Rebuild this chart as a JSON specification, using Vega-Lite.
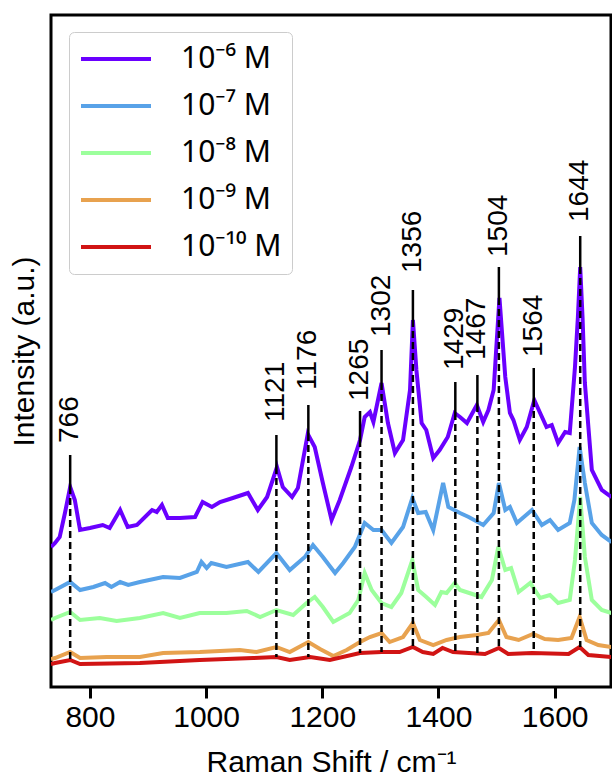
{
  "$schema": "https://vega.github.io/schema/vega-lite/v6.json",
  "width": 560,
  "height": 672,
  "autosize": {"type": "none"},
  "padding": {"left": 51, "top": 15, "right": 1, "bottom": 91},
  "background": "white",
  "config": {
    "view": {"stroke": "black", "strokeWidth": 3},
    "font": "Liberation Sans"
  },
  "datasets": {
    "spectra": [
      {"s":"10⁻⁶ M","x":733,"y":140},{"s":"10⁻⁶ M","x":740,"y":144},{"s":"10⁻⁶ M","x":748,"y":150},{"s":"10⁻⁶ M","x":757,"y":174},{"s":"10⁻⁶ M","x":766,"y":200},{"s":"10⁻⁶ M","x":774,"y":187},{"s":"10⁻⁶ M","x":783,"y":157},{"s":"10⁻⁶ M","x":800,"y":159},{"s":"10⁻⁶ M","x":822,"y":162},{"s":"10⁻⁶ M","x":834,"y":159},{"s":"10⁻⁶ M","x":852,"y":177},{"s":"10⁻⁶ M","x":865,"y":160},{"s":"10⁻⁶ M","x":881,"y":162},{"s":"10⁻⁶ M","x":907,"y":177},{"s":"10⁻⁶ M","x":915,"y":175},{"s":"10⁻⁶ M","x":924,"y":182},{"s":"10⁻⁶ M","x":934,"y":169},{"s":"10⁻⁶ M","x":955,"y":169},{"s":"10⁻⁶ M","x":981,"y":170},{"s":"10⁻⁶ M","x":994,"y":185},{"s":"10⁻⁶ M","x":1010,"y":180},{"s":"10⁻⁶ M","x":1024,"y":185},{"s":"10⁻⁶ M","x":1046,"y":189},{"s":"10⁻⁶ M","x":1072,"y":194},{"s":"10⁻⁶ M","x":1089,"y":177},{"s":"10⁻⁶ M","x":1105,"y":190},{"s":"10⁻⁶ M","x":1122,"y":220},{"s":"10⁻⁶ M","x":1132,"y":200},{"s":"10⁻⁶ M","x":1148,"y":190},{"s":"10⁻⁶ M","x":1158,"y":199},{"s":"10⁻⁶ M","x":1175,"y":253},{"s":"10⁻⁶ M","x":1187,"y":240},{"s":"10⁻⁶ M","x":1201,"y":204},{"s":"10⁻⁶ M","x":1216,"y":167},{"s":"10⁻⁶ M","x":1230,"y":187},{"s":"10⁻⁶ M","x":1250,"y":220},{"s":"10⁻⁶ M","x":1265,"y":247},{"s":"10⁻⁶ M","x":1273,"y":270},{"s":"10⁻⁶ M","x":1282,"y":275},{"s":"10⁻⁶ M","x":1288,"y":265},{"s":"10⁻⁶ M","x":1302,"y":304},{"s":"10⁻⁶ M","x":1313,"y":264},{"s":"10⁻⁶ M","x":1325,"y":234},{"s":"10⁻⁶ M","x":1339,"y":247},{"s":"10⁻⁶ M","x":1351,"y":297},{"s":"10⁻⁶ M","x":1356,"y":367},{"s":"10⁻⁶ M","x":1362,"y":317},{"s":"10⁻⁶ M","x":1371,"y":264},{"s":"10⁻⁶ M","x":1379,"y":257},{"s":"10⁻⁶ M","x":1391,"y":229},{"s":"10⁻⁶ M","x":1402,"y":237},{"s":"10⁻⁶ M","x":1416,"y":250},{"s":"10⁻⁶ M","x":1428,"y":274},{"s":"10⁻⁶ M","x":1437,"y":270},{"s":"10⁻⁶ M","x":1449,"y":264},{"s":"10⁻⁶ M","x":1466,"y":282},{"s":"10⁻⁶ M","x":1477,"y":265},{"s":"10⁻⁶ M","x":1486,"y":277},{"s":"10⁻⁶ M","x":1495,"y":297},{"s":"10⁻⁶ M","x":1505,"y":389},{"s":"10⁻⁶ M","x":1515,"y":310},{"s":"10⁻⁶ M","x":1523,"y":274},{"s":"10⁻⁶ M","x":1529,"y":267},{"s":"10⁻⁶ M","x":1540,"y":247},{"s":"10⁻⁶ M","x":1552,"y":260},{"s":"10⁻⁶ M","x":1565,"y":287},{"s":"10⁻⁶ M","x":1575,"y":274},{"s":"10⁻⁶ M","x":1586,"y":260},{"s":"10⁻⁶ M","x":1595,"y":262},{"s":"10⁻⁶ M","x":1606,"y":244},{"s":"10⁻⁶ M","x":1618,"y":255},{"s":"10⁻⁶ M","x":1626,"y":254},{"s":"10⁻⁶ M","x":1635,"y":320},{"s":"10⁻⁶ M","x":1640,"y":370},{"s":"10⁻⁶ M","x":1644,"y":420},{"s":"10⁻⁶ M","x":1648,"y":370},{"s":"10⁻⁶ M","x":1652,"y":304},{"s":"10⁻⁶ M","x":1664,"y":217},{"s":"10⁻⁶ M","x":1681,"y":197},{"s":"10⁻⁶ M","x":1698,"y":190},
      {"s":"10⁻⁷ M","x":733,"y":95},{"s":"10⁻⁷ M","x":740,"y":97},{"s":"10⁻⁷ M","x":766,"y":105},{"s":"10⁻⁷ M","x":783,"y":97},{"s":"10⁻⁷ M","x":806,"y":100},{"s":"10⁻⁷ M","x":826,"y":104},{"s":"10⁻⁷ M","x":837,"y":100},{"s":"10⁻⁷ M","x":852,"y":105},{"s":"10⁻⁷ M","x":866,"y":102},{"s":"10⁻⁷ M","x":886,"y":105},{"s":"10⁻⁷ M","x":926,"y":110},{"s":"10⁻⁷ M","x":955,"y":109},{"s":"10⁻⁷ M","x":984,"y":115},{"s":"10⁻⁷ M","x":992,"y":125},{"s":"10⁻⁷ M","x":1001,"y":119},{"s":"10⁻⁷ M","x":1009,"y":124},{"s":"10⁻⁷ M","x":1035,"y":120},{"s":"10⁻⁷ M","x":1072,"y":125},{"s":"10⁻⁷ M","x":1090,"y":115},{"s":"10⁻⁷ M","x":1121,"y":134},{"s":"10⁻⁷ M","x":1144,"y":117},{"s":"10⁻⁷ M","x":1170,"y":130},{"s":"10⁻⁷ M","x":1184,"y":142},{"s":"10⁻⁷ M","x":1201,"y":130},{"s":"10⁻⁷ M","x":1222,"y":114},{"s":"10⁻⁷ M","x":1236,"y":124},{"s":"10⁻⁷ M","x":1256,"y":140},{"s":"10⁻⁷ M","x":1273,"y":164},{"s":"10⁻⁷ M","x":1288,"y":157},{"s":"10⁻⁷ M","x":1302,"y":157},{"s":"10⁻⁷ M","x":1319,"y":144},{"s":"10⁻⁷ M","x":1339,"y":160},{"s":"10⁻⁷ M","x":1355,"y":189},{"s":"10⁻⁷ M","x":1365,"y":174},{"s":"10⁻⁷ M","x":1378,"y":175},{"s":"10⁻⁷ M","x":1391,"y":157},{"s":"10⁻⁷ M","x":1408,"y":204},{"s":"10⁻⁷ M","x":1417,"y":180},{"s":"10⁻⁷ M","x":1437,"y":174},{"s":"10⁻⁷ M","x":1452,"y":170},{"s":"10⁻⁷ M","x":1477,"y":162},{"s":"10⁻⁷ M","x":1495,"y":174},{"s":"10⁻⁷ M","x":1504,"y":204},{"s":"10⁻⁷ M","x":1515,"y":177},{"s":"10⁻⁷ M","x":1523,"y":180},{"s":"10⁻⁷ M","x":1535,"y":164},{"s":"10⁻⁷ M","x":1561,"y":177},{"s":"10⁻⁷ M","x":1578,"y":162},{"s":"10⁻⁷ M","x":1592,"y":167},{"s":"10⁻⁷ M","x":1606,"y":157},{"s":"10⁻⁷ M","x":1626,"y":164},{"s":"10⁻⁷ M","x":1634,"y":187},{"s":"10⁻⁷ M","x":1643,"y":240},{"s":"10⁻⁷ M","x":1652,"y":204},{"s":"10⁻⁷ M","x":1664,"y":164},{"s":"10⁻⁷ M","x":1681,"y":152},{"s":"10⁻⁷ M","x":1698,"y":145},
      {"s":"10⁻⁸ M","x":733,"y":67},{"s":"10⁻⁸ M","x":740,"y":69},{"s":"10⁻⁸ M","x":766,"y":75},{"s":"10⁻⁸ M","x":783,"y":67},{"s":"10⁻⁸ M","x":817,"y":69},{"s":"10⁻⁸ M","x":846,"y":66},{"s":"10⁻⁸ M","x":886,"y":69},{"s":"10⁻⁸ M","x":926,"y":74},{"s":"10⁻⁸ M","x":955,"y":69},{"s":"10⁻⁸ M","x":989,"y":74},{"s":"10⁻⁸ M","x":1035,"y":74},{"s":"10⁻⁸ M","x":1070,"y":76},{"s":"10⁻⁸ M","x":1093,"y":70},{"s":"10⁻⁸ M","x":1121,"y":77},{"s":"10⁻⁸ M","x":1150,"y":72},{"s":"10⁻⁸ M","x":1173,"y":84},{"s":"10⁻⁸ M","x":1187,"y":90},{"s":"10⁻⁸ M","x":1201,"y":80},{"s":"10⁻⁸ M","x":1219,"y":65},{"s":"10⁻⁸ M","x":1247,"y":74},{"s":"10⁻⁸ M","x":1262,"y":87},{"s":"10⁻⁸ M","x":1273,"y":114},{"s":"10⁻⁸ M","x":1285,"y":97},{"s":"10⁻⁸ M","x":1302,"y":84},{"s":"10⁻⁸ M","x":1319,"y":80},{"s":"10⁻⁸ M","x":1336,"y":94},{"s":"10⁻⁸ M","x":1355,"y":127},{"s":"10⁻⁸ M","x":1365,"y":97},{"s":"10⁻⁸ M","x":1379,"y":90},{"s":"10⁻⁸ M","x":1394,"y":82},{"s":"10⁻⁸ M","x":1405,"y":95},{"s":"10⁻⁸ M","x":1414,"y":94},{"s":"10⁻⁸ M","x":1428,"y":104},{"s":"10⁻⁸ M","x":1437,"y":97},{"s":"10⁻⁸ M","x":1474,"y":90},{"s":"10⁻⁸ M","x":1492,"y":107},{"s":"10⁻⁸ M","x":1503,"y":140},{"s":"10⁻⁸ M","x":1515,"y":117},{"s":"10⁻⁸ M","x":1525,"y":119},{"s":"10⁻⁸ M","x":1538,"y":95},{"s":"10⁻⁸ M","x":1558,"y":104},{"s":"10⁻⁸ M","x":1575,"y":89},{"s":"10⁻⁸ M","x":1592,"y":92},{"s":"10⁻⁸ M","x":1606,"y":84},{"s":"10⁻⁸ M","x":1626,"y":87},{"s":"10⁻⁸ M","x":1635,"y":127},{"s":"10⁻⁸ M","x":1644,"y":190},{"s":"10⁻⁸ M","x":1652,"y":130},{"s":"10⁻⁸ M","x":1664,"y":87},{"s":"10⁻⁸ M","x":1681,"y":77},{"s":"10⁻⁸ M","x":1698,"y":74},
      {"s":"10⁻⁹ M","x":733,"y":28},{"s":"10⁻⁹ M","x":740,"y":29},{"s":"10⁻⁹ M","x":766,"y":35},{"s":"10⁻⁹ M","x":783,"y":29},{"s":"10⁻⁹ M","x":829,"y":30},{"s":"10⁻⁹ M","x":886,"y":30},{"s":"10⁻⁹ M","x":926,"y":34},{"s":"10⁻⁹ M","x":989,"y":35},{"s":"10⁻⁹ M","x":1058,"y":37},{"s":"10⁻⁹ M","x":1087,"y":35},{"s":"10⁻⁹ M","x":1121,"y":40},{"s":"10⁻⁹ M","x":1144,"y":35},{"s":"10⁻⁹ M","x":1176,"y":45},{"s":"10⁻⁹ M","x":1196,"y":38},{"s":"10⁻⁹ M","x":1219,"y":31},{"s":"10⁻⁹ M","x":1242,"y":37},{"s":"10⁻⁹ M","x":1265,"y":45},{"s":"10⁻⁹ M","x":1282,"y":50},{"s":"10⁻⁹ M","x":1302,"y":54},{"s":"10⁻⁹ M","x":1316,"y":45},{"s":"10⁻⁹ M","x":1339,"y":50},{"s":"10⁻⁹ M","x":1356,"y":64},{"s":"10⁻⁹ M","x":1368,"y":47},{"s":"10⁻⁹ M","x":1391,"y":42},{"s":"10⁻⁹ M","x":1414,"y":47},{"s":"10⁻⁹ M","x":1437,"y":50},{"s":"10⁻⁹ M","x":1466,"y":52},{"s":"10⁻⁹ M","x":1486,"y":54},{"s":"10⁻⁹ M","x":1504,"y":67},{"s":"10⁻⁹ M","x":1517,"y":50},{"s":"10⁻⁹ M","x":1538,"y":47},{"s":"10⁻⁹ M","x":1563,"y":53},{"s":"10⁻⁹ M","x":1583,"y":48},{"s":"10⁻⁹ M","x":1606,"y":47},{"s":"10⁻⁹ M","x":1629,"y":49},{"s":"10⁻⁹ M","x":1643,"y":70},{"s":"10⁻⁹ M","x":1655,"y":47},{"s":"10⁻⁹ M","x":1675,"y":42},{"s":"10⁻⁹ M","x":1698,"y":40},
      {"s":"10⁻¹⁰ M","x":733,"y":23},{"s":"10⁻¹⁰ M","x":740,"y":24},{"s":"10⁻¹⁰ M","x":766,"y":27},{"s":"10⁻¹⁰ M","x":783,"y":23},{"s":"10⁻¹⁰ M","x":886,"y":24},{"s":"10⁻¹⁰ M","x":989,"y":27},{"s":"10⁻¹⁰ M","x":1081,"y":29},{"s":"10⁻¹⁰ M","x":1121,"y":30},{"s":"10⁻¹⁰ M","x":1144,"y":27},{"s":"10⁻¹⁰ M","x":1179,"y":30},{"s":"10⁻¹⁰ M","x":1213,"y":27},{"s":"10⁻¹⁰ M","x":1265,"y":34},{"s":"10⁻¹⁰ M","x":1302,"y":35},{"s":"10⁻¹⁰ M","x":1333,"y":35},{"s":"10⁻¹⁰ M","x":1356,"y":40},{"s":"10⁻¹⁰ M","x":1373,"y":35},{"s":"10⁻¹⁰ M","x":1391,"y":33},{"s":"10⁻¹⁰ M","x":1407,"y":39},{"s":"10⁻¹⁰ M","x":1425,"y":35},{"s":"10⁻¹⁰ M","x":1480,"y":33},{"s":"10⁻¹⁰ M","x":1504,"y":39},{"s":"10⁻¹⁰ M","x":1520,"y":33},{"s":"10⁻¹⁰ M","x":1561,"y":34},{"s":"10⁻¹⁰ M","x":1624,"y":33},{"s":"10⁻¹⁰ M","x":1643,"y":40},{"s":"10⁻¹⁰ M","x":1658,"y":32},{"s":"10⁻¹⁰ M","x":1698,"y":30}
    ],
    "peaks": [
      {"p":766,"lbl":"766","ty":244,"lt":232,"pk":200,"rb":27},
      {"p":1121,"lbl":"1121","ty":265,"lt":252,"pk":220,"rb":30},
      {"p":1176,"lbl":"1176","ty":297,"lt":282,"pk":253,"rb":30},
      {"p":1265,"lbl":"1265","ty":286,"lt":276,"pk":247,"rb":34},
      {"p":1302,"lbl":"1302","ty":350,"lt":337,"pk":304,"rb":35},
      {"p":1356,"lbl":"1356","ty":414,"lt":397,"pk":367,"rb":40},
      {"p":1429,"lbl":"1429","ty":317,"lt":305,"pk":274,"rb":35},
      {"p":1467,"lbl":"1467","ty":327,"lt":312,"pk":282,"rb":34},
      {"p":1504,"lbl":"1504","ty":430,"lt":420,"pk":389,"rb":39},
      {"p":1564,"lbl":"1564","ty":330,"lt":319,"pk":287,"rb":34},
      {"p":1644,"lbl":"1644","ty":465,"lt":451,"pk":420,"rb":40}
    ]
  },
  "layer": [
    {
      "data": {"name": "spectra"},
      "mark": {"type": "line", "strokeWidth": 4, "clip": true, "interpolate": "linear"},
      "encoding": {
        "x": {
          "field": "x", "type": "quantitative",
          "scale": {"domain": [733, 1697], "nice": false, "zero": false},
          "axis": {
            "title": "Raman Shift / cm⁻¹", "values": [800, 1000, 1200, 1400, 1600], "format": "d",
            "tickSize": 11, "tickWidth": 3, "tickColor": "black", "domain": false, "grid": false,
            "labelFontSize": 30, "labelColor": "black", "labelPadding": 4, "labelFont": "Liberation Sans",
            "titleFontSize": 30, "titleFontWeight": "normal", "titleColor": "black", "titlePadding": 15, "titleFont": "Liberation Sans"
          }
        },
        "y": {
          "field": "y", "type": "quantitative",
          "scale": {"domain": [0, 672], "nice": false},
          "axis": {
            "title": "Intensity (a.u.)", "ticks": false, "labels": false, "domain": false, "grid": false,
            "titleFontSize": 30, "titleFontWeight": "normal", "titleColor": "black", "titlePadding": 12, "titleFont": "Liberation Sans"
          }
        },
        "color": {
          "field": "s", "type": "nominal",
          "scale": {
            "domain": ["10⁻⁶ M", "10⁻⁷ M", "10⁻⁸ M", "10⁻⁹ M", "10⁻¹⁰ M"],
            "range": ["#6a00ff", "#58a2e8", "#9cff9c", "#e8a24f", "#d11414"]
          },
          "legend": {
            "title": null, "orient": "none", "legendX": 18, "legendY": 17,
            "symbolType": "stroke", "symbolSize": 4900, "symbolStrokeWidth": 4,
            "labelFontSize": 30, "labelFont": "Noto Sans", "labelColor": "black", "labelOffset": 28,
            "padding": 10, "fillColor": "white", "strokeColor": "#cccccc", "cornerRadius": 5,
            "clipHeight": 34, "rowPadding": 13
          }
        }
      }
    },
    {
      "data": {"name": "peaks"},
      "mark": {"type": "rule", "color": "black", "strokeWidth": 2.5},
      "encoding": {
        "x": {"field": "p", "type": "quantitative"},
        "y": {"field": "lt", "type": "quantitative"},
        "y2": {"field": "pk"}
      }
    },
    {
      "data": {"name": "peaks"},
      "mark": {"type": "rule", "color": "black", "strokeWidth": 2.5, "strokeDash": [7, 4]},
      "encoding": {
        "x": {"field": "p", "type": "quantitative"},
        "y": {"field": "pk", "type": "quantitative"},
        "y2": {"field": "rb"}
      }
    },
    {
      "data": {"name": "peaks"},
      "mark": {"type": "text", "angle": 270, "align": "left", "baseline": "middle", "fontSize": 28, "font": "Liberation Sans", "color": "black"},
      "encoding": {
        "x": {"field": "p", "type": "quantitative"},
        "y": {"field": "ty", "type": "quantitative"},
        "text": {"field": "lbl"}
      }
    }
  ]
}
